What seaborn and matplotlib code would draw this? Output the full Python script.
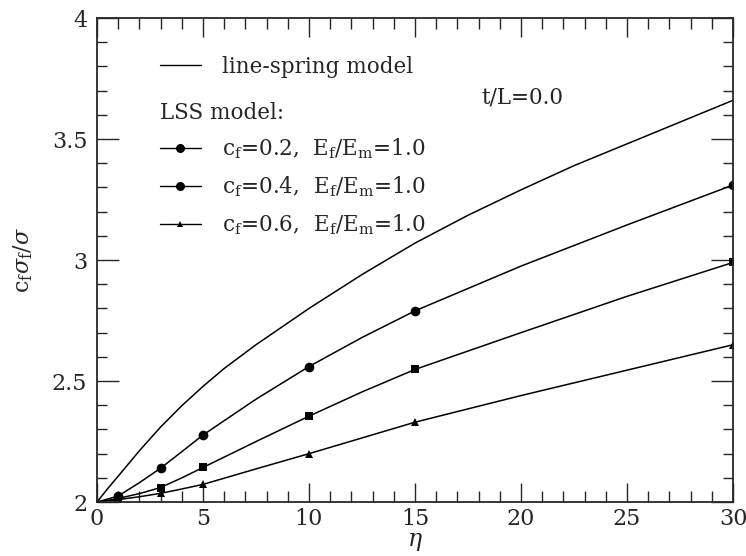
import matplotlib
matplotlib.use("Agg")
import matplotlib.pyplot as plt
from matplotlib.lines import Line2D
from matplotlib.ticker import MultipleLocator
import seaborn as sns
import pandas as pd

# line-spring model (smooth curve)
eta_ls = [0, 0.5, 1, 2, 3, 4, 5, 6, 7.5, 10, 12.5, 15, 17.5, 20, 22.5, 25, 27.5, 30]
ls_vals = [2.0, 2.055, 2.107, 2.212, 2.31, 2.398, 2.478, 2.552, 2.65, 2.80, 2.94,
           3.07, 3.185, 3.29, 3.39, 3.48, 3.57, 3.66]

# LSS model curves, markers drawn at mark_at
eta_lss = [0, 1, 2, 3, 4, 5, 7.5, 10, 12.5, 15, 20, 25, 30]
mark_at = [1, 3, 5, 10, 15, 30]
lss_02 = [2.0, 2.025, 2.08, 2.14, 2.208, 2.277, 2.425, 2.56, 2.68, 2.79, 2.975, 3.145, 3.31]
lss_04 = [2.0, 2.015, 2.035, 2.06, 2.10, 2.143, 2.25, 2.355, 2.455, 2.548, 2.70, 2.85, 2.99]
lss_06 = [2.0, 2.01, 2.022, 2.036, 2.054, 2.073, 2.137, 2.20, 2.265, 2.33, 2.44, 2.545, 2.65]

labels = [r"c$_\mathrm{f}$=0.2,  E$_\mathrm{f}$/E$_\mathrm{m}$=1.0",
          r"c$_\mathrm{f}$=0.4,  E$_\mathrm{f}$/E$_\mathrm{m}$=1.0",
          r"c$_\mathrm{f}$=0.6,  E$_\mathrm{f}$/E$_\mathrm{m}$=1.0"]

sns.set_style("ticks")
plt.rcParams['font.family'] = ['DejaVu Serif']
plt.rcParams['mathtext.fontset'] = 'dejavuserif'

fig = plt.figure(figsize=(7.46, 5.56), dpi=100)
ax = fig.add_axes([0.130, 0.097, 0.8526, 0.8706])

df_ls = pd.DataFrame({'eta': eta_ls, 'val': ls_vals})
sns.lineplot(data=df_ls, x='eta', y='val', ax=ax, color='black', lw=1.1)

markers = ['o', 's', '^']
msizes = [7.0, 5.5, 5.5]
series = [lss_02, lss_04, lss_06]
idx = [eta_lss.index(m) for m in mark_at]
for ys, mk, ms in zip(series, markers, msizes):
    d = pd.DataFrame({'eta': eta_lss, 'val': ys})
    sns.lineplot(data=d, x='eta', y='val', ax=ax, color='black', lw=1.1,
                 marker=mk, markersize=ms, markeredgewidth=0, markevery=idx)

ax.set_xlim(0, 30)
ax.set_ylim(2, 4)
ax.xaxis.set_major_locator(MultipleLocator(5))
ax.xaxis.set_minor_locator(MultipleLocator(1))
ax.yaxis.set_minor_locator(MultipleLocator(0.1))
ax.set_yticks([2, 2.5, 3, 3.5, 4])
ax.set_yticklabels(['2', '2.5', '3', '3.5', '4'])
ax.tick_params(which='both', direction='in', top=True, right=True,
               labelsize=16, width=1.0)
ax.tick_params(axis='x', which='major', length=14, pad=4)
ax.tick_params(axis='x', which='minor', length=8)
ax.tick_params(axis='y', which='major', length=16, pad=7)
ax.tick_params(axis='y', which='minor', length=7)
for s in ax.spines.values():
    s.set_linewidth(1.3)

ax.set_xlabel(r"$\eta$", fontsize=17, labelpad=0)
ax.set_ylabel(r"c$_\mathrm{f}\sigma_\mathrm{f}/\sigma$", fontsize=16, labelpad=12)

# legends
h_ls = [Line2D([], [], color='black', lw=1.0)]
leg1 = ax.legend(h_ls, ['line-spring model'], loc='center left',
                 bbox_to_anchor=(0.099, 0.899), frameon=False, fontsize=15.5,
                 handlelength=1.9, handletextpad=1.0, borderaxespad=0, borderpad=0)
ax.add_artist(leg1)
ax.text(0.099, 0.804, "LSS model:", transform=ax.transAxes, fontsize=15.5,
        ha='left', va='center')
h_lss = [Line2D([], [], color='black', lw=1.0, marker='o', markersize=6.5, markeredgewidth=0),
         Line2D([], [], color='black', lw=1.0, marker='o', markersize=6.5, markeredgewidth=0),
         Line2D([], [], color='black', lw=1.0, marker='^', markersize=5, markeredgewidth=0)]
ax.legend(h_lss, labels, loc='upper left', bbox_to_anchor=(0.099, 0.755),
          frameon=False, fontsize=15.5, handlelength=1.9, handletextpad=1.0,
          labelspacing=0.62, borderaxespad=0, borderpad=0)

ax.text(0.604, 0.835, "t/L=0.0", transform=ax.transAxes, fontsize=15.5,
        ha='left', va='center')

fig.savefig("out.png", dpi=100)
